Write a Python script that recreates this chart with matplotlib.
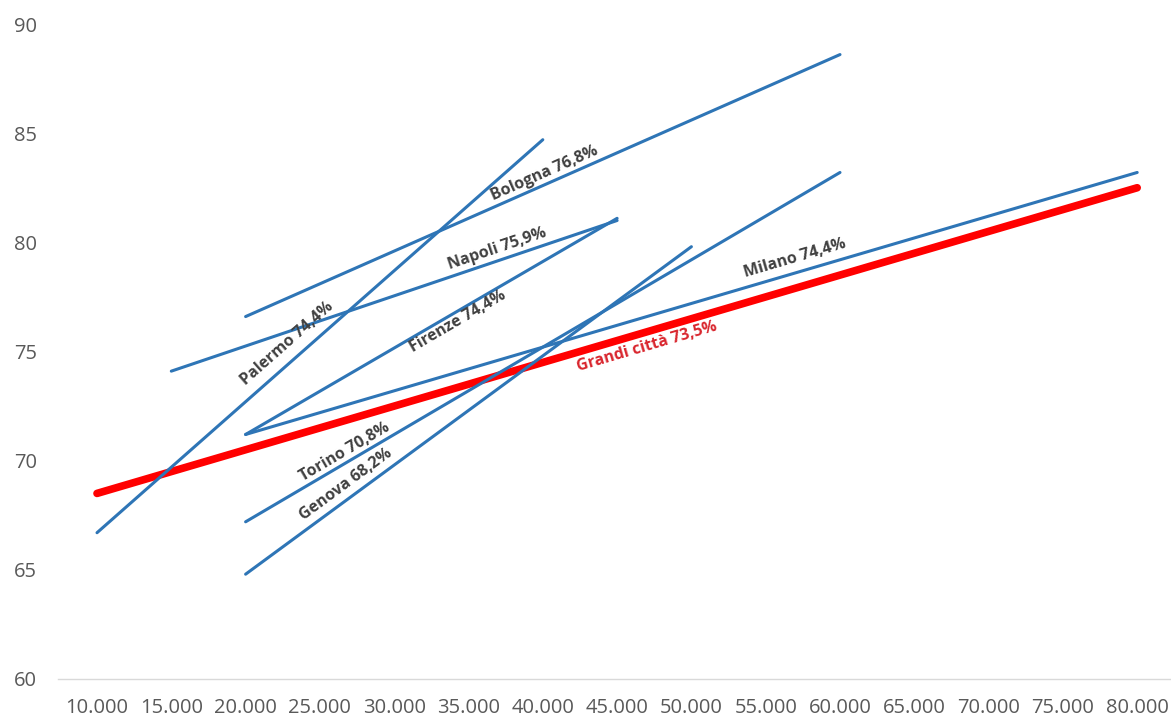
import math

import matplotlib
matplotlib.use("Agg")
import matplotlib.pyplot as plt
from matplotlib.ticker import FuncFormatter, MultipleLocator

# One segment per city: (reddito, valore) at the two ends of its fitted line.
CITIES = ["Palermo", "Napoli", "Bologna", "Firenze", "Milano", "Torino", "Genova"]
SHARES = ["74,4%", "75,9%", "76,8%", "74,4%", "74,4%", "70,8%", "68,2%"]
X_START = [10000, 15000, 20000, 20000, 20000, 20000, 20000]
Y_START = [66.7, 74.1, 76.6, 71.2, 71.2, 67.2, 64.8]
X_END = [40000, 45000, 60000, 45000, 80000, 60000, 50000]
Y_END = [84.7, 81.0, 88.6, 81.1, 83.2, 83.2, 79.8]

# Aggregate of the large cities.
TOTAL_NAME = "Grandi città"
TOTAL_SHARE = "73,5%"
TOTAL_X = [10000, 80000]
TOTAL_Y = [68.5, 82.5]

# Where each label sits: fraction along its segment, perpendicular offset in px.
LABEL_T = [0.45, 0.74, 0.51, 0.56, 0.62, 0.175, 0.243]
LABEL_OFF = [15.9, 11.4, 9.9, -9.2, 13.8, 10.1, 12.6]
TOTAL_T = 0.525
TOTAL_OFF = -14.7

BLUE = "#2E75B6"
RED = "#FF0000"
LABEL_GRAY = "#404040"
TICK_GRAY = "#595959"

DPI = 100
fig = plt.figure(figsize=(11.71, 7.18), dpi=DPI)
ax = fig.add_axes([58 / 1171, 1 - 679 / 718, 1 - 58 / 1171, (679 - 24) / 718])

ax.plot(TOTAL_X, TOTAL_Y, color=RED, lw=5.5, solid_capstyle="round", zorder=2)
for xs, ys, xe, ye in zip(X_START, Y_START, X_END, Y_END):
    ax.plot([xs, xe], [ys, ye], color=BLUE, lw=2.2, solid_capstyle="round", zorder=3)

ax.set_xlim(7375, 82275)
ax.set_ylim(60, 90)
ax.xaxis.set_major_locator(MultipleLocator(5000))
ax.yaxis.set_major_locator(MultipleLocator(5))
ax.xaxis.set_major_formatter(FuncFormatter(lambda v, _: f"{v:,.0f}".replace(",", ".")))
ax.set_xticks(range(10000, 80001, 5000))

for side in ("top", "right", "left"):
    ax.spines[side].set_visible(False)
ax.spines["bottom"].set_color("#d9d9d9")
ax.spines["bottom"].set_linewidth(1.0)
ax.tick_params(axis="both", length=0, labelsize=14.5, labelcolor=TICK_GRAY)
ax.tick_params(axis="x", pad=14)
ax.tick_params(axis="y", pad=15)
for lab in ax.get_xticklabels() + ax.get_yticklabels():
    lab.set_fontfamily("Open Sans")


def place_label(x0, y0, x1, y1, t, off_px, text, color):
    # angle of the segment as drawn on screen
    p0 = ax.transData.transform((x0, y0))
    p1 = ax.transData.transform((x1, y1))
    ang = math.atan2(p1[1] - p0[1], p1[0] - p0[0])
    x = x0 + t * (x1 - x0)
    y = y0 + t * (y1 - y0)
    off_pt = off_px * 72.0 / DPI
    dx = -math.sin(ang) * off_pt
    dy = math.cos(ang) * off_pt
    ax.annotate(text, xy=(x, y), xytext=(dx, dy), textcoords="offset points",
                rotation=math.degrees(ang), rotation_mode="anchor",
                ha="center", va="center", fontsize=11.5, fontweight="bold",
                fontfamily="Open Sans", color=color, zorder=4)


for i, city in enumerate(CITIES):
    place_label(X_START[i], Y_START[i], X_END[i], Y_END[i], LABEL_T[i], LABEL_OFF[i],
                f"{city} {SHARES[i]}", LABEL_GRAY)
place_label(TOTAL_X[0], TOTAL_Y[0], TOTAL_X[1], TOTAL_Y[1], TOTAL_T, TOTAL_OFF,
            f"{TOTAL_NAME} {TOTAL_SHARE}", "#D9262E")

fig.savefig("out.png", dpi=DPI)
